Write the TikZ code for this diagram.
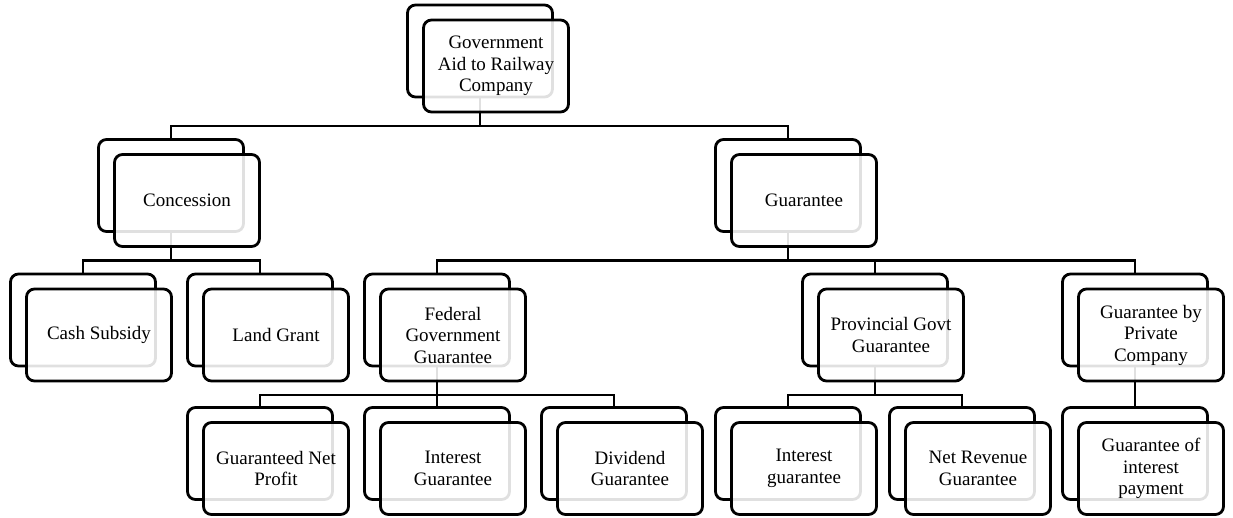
\documentclass[tikz,border=0pt]{standalone}
\usepackage{fontspec}
\setmainfont{Liberation Serif}
\pgfdeclarelayer{links}
\pgfsetlayers{links,main}
\tikzset{
  backbox/.style={draw=black, line width=2.8pt, rounded corners=8pt,
    minimum width=145pt, minimum height=92pt, inner sep=0pt, outer sep=0pt},
  frontbox/.style={backbox, fill=white, fill opacity=0.88, text opacity=1,
    align=center, font=\fontsize{19}{21.5}\selectfont},
  link/.style={draw=black, line width=2.8pt}
}
% a stacked pair of cards: back card named #1, front card #1-f carrying the label
\newcommand\cardpair[3]{%
  \node[backbox] (#1) at (#2) {};
  \node[frontbox] (#1-f) at ([shift={(16pt,-15pt)}]#1.center) {#3};
}
\begin{document}
\begin{tikzpicture}[x=1pt,y=-1pt]
\useasboundingbox (0,0) rectangle (1233,517);

\cardpair{root}{480,51}{Government\\Aid to Railway\\Company}
\cardpair{conc}{171,185.5}{Concession}
\cardpair{guar}{788,185.5}{Guarantee}
\cardpair{cash}{83,320}{Cash Subsidy}
\cardpair{land}{260,320}{Land Grant}
\cardpair{fed}{437,320}{Federal\\Government\\Guarantee}
\cardpair{prov}{875,320}{Provincial Govt\\Guarantee}
\cardpair{priv}{1135,320}{Guarantee by\\Private\\Company}
\cardpair{gnp}{260,453.5}{Guaranteed Net\\Profit}
\cardpair{fint}{437,453.5}{Interest\\Guarantee}
\cardpair{div}{614,453.5}{Dividend\\Guarantee}
\cardpair{pint}{788,453.5}{Interest\\guarantee}
\cardpair{nrev}{962,453.5}{Net Revenue\\Guarantee}
\cardpair{goi}{1135,453.5}{Guarantee of\\interest\\payment}

\begin{pgfonlayer}{links}
  \foreach \p/\c in {root/conc, root/guar, conc/cash, conc/land,
                     guar/fed, guar/prov, guar/priv,
                     fed/gnp, fed/fint, fed/div,
                     prov/pint, prov/nrev, priv/goi}
    \draw[link] (\p.south) -- ++(0,-29pt) -| (\c.north);
\end{pgfonlayer}
\end{tikzpicture}
\end{document}
